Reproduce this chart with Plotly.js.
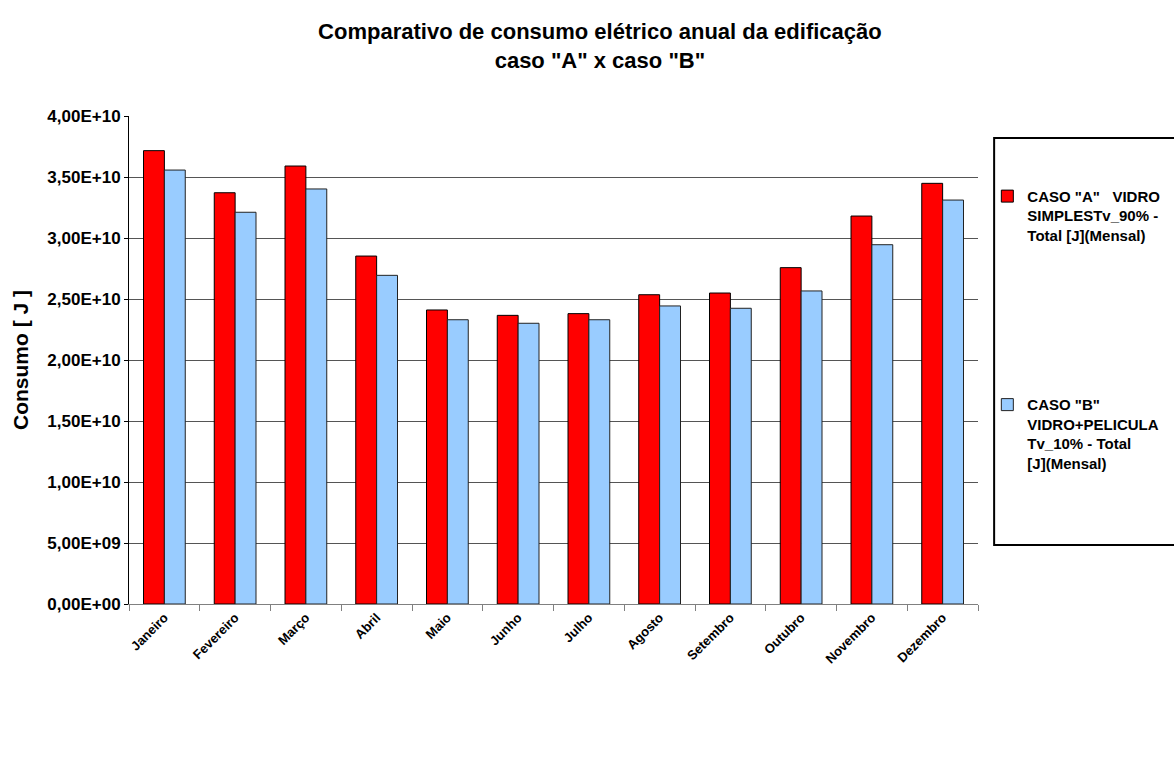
<!DOCTYPE html>
<html>
<head>
<meta charset="utf-8">
<script src="https://cdn.plot.ly/plotly-3.0.1.min.js"></script>
<style>html,body{margin:0;padding:0;background:#fff;}#chart{width:1174px;height:782px;}</style>
</head>
<body>
<div id="chart"></div>
<script>
const months = ["Janeiro","Fevereiro","Março","Abril","Maio","Junho","Julho","Agosto","Setembro","Outubro","Novembro","Dezembro"];
const casoA = [3.716e10,3.371e10,3.590e10,2.852e10,2.410e10,2.366e10,2.380e10,2.535e10,2.549e10,2.757e10,3.180e10,3.448e10];
const casoB = [3.557e10,3.211e10,3.402e10,2.694e10,2.330e10,2.301e10,2.330e10,2.443e10,2.424e10,2.566e10,2.945e10,3.311e10];
const yTickVals = [0,5e9,1e10,1.5e10,2e10,2.5e10,3e10,3.5e10,4e10];
const yTickText = ["0,00E+00","5,00E+09","1,00E+10","1,50E+10","2,00E+10","2,50E+10","3,00E+10","3,50E+10","4,00E+10"];
const nameA = 'CASO "A"   VIDRO<br>SIMPLESTv_90% -<br>Total [J](Mensal)';
const nameB = 'CASO "B"<br>VIDRO+PELICULA<br>Tv_10% - Total<br>[J](Mensal)';

const font = "Liberation Sans, Arial, sans-serif";
const bold = s => "<b>" + s + "</b>";

const traces = [
  {type:"bar", x:months, y:casoA, name:bold(nameA), legendgroup:"a",
   marker:{color:"#FF0000", line:{color:"#000000", width:1}}},
  {type:"bar", x:months, y:casoB, name:bold(nameB), legendgroup:"b",
   marker:{color:"#99CCFF", line:{color:"#222222", width:1}}}
];

const layout = {
  width:1174, height:782,
  paper_bgcolor:"#ffffff", plot_bgcolor:"#ffffff",
  margin:{l:129, r:196, t:116, b:178},
  font:{family:font, color:"#000", size:14},
  title:{text:bold('Comparativo de consumo elétrico anual da edificação<br>caso "A" x caso "B"'),
         x:0.511, xref:"container", xanchor:"center", y:0.95, yref:"container", yanchor:"middle",
         font:{family:font, size:22, color:"#000"}},
  barmode:"group", bargap:0.41, bargroupgap:0,
  showlegend:true,
  legend:{xref:"container", yref:"container", x:0.841, xanchor:"left", y:0.770, yanchor:"top",
          bgcolor:"rgba(0,0,0,0)", borderwidth:0, traceorder:"grouped", tracegroupgap:147,
          valign:"top", itemwidth:30,
          font:{family:font, size:15, color:"#000"}},
  xaxis:{type:"category", tickangle:-45, tickson:"boundaries", ticks:"outside", ticklen:6,
         tickcolor:"#808080", showline:true, linecolor:"#808080", linewidth:1,
         showgrid:false, tickvals:months, ticktext:months.map(bold),
         tickfont:{family:font, size:13, color:"#000"}, zeroline:false},
  yaxis:{range:[0,4e10], tickvals:yTickVals, ticktext:yTickText.map(bold), ticks:"outside", ticklen:4,
         tickcolor:"#000", showline:true, linecolor:"#000", linewidth:1,
         showgrid:true, gridcolor:"#555555", gridwidth:1, zeroline:false,
         tickfont:{family:font, size:17, color:"#000"},
         title:{text:bold("Consumo [ J ]"), font:{family:font, size:21, color:"#000"}, standoff:12}},
  shapes:[{type:"rect", xref:"paper", yref:"paper", x0:1.019, x1:1.245, y0:0.121, y1:0.955,
           line:{color:"#000", width:2}, fillcolor:"rgba(0,0,0,0)"}]
};

Plotly.newPlot("chart", traces, layout, {displayModeBar:false, staticPlot:true});
</script>
</body>
</html>
